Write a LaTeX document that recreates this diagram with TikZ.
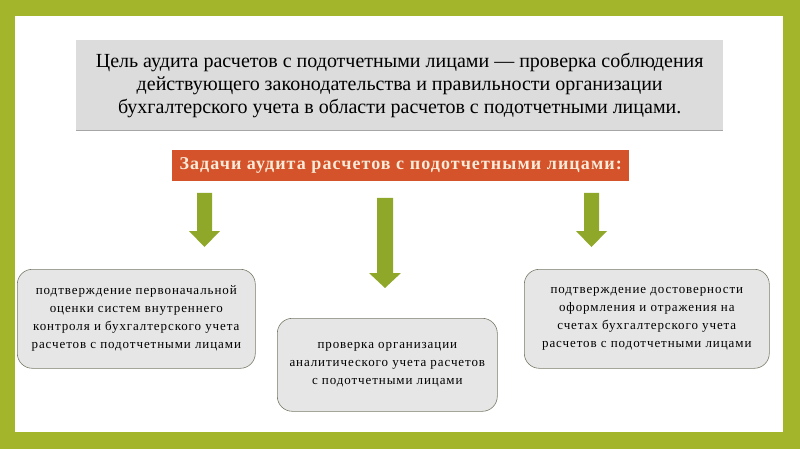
\documentclass[tikz,border=0pt]{standalone}
\usepackage{fontspec}
\setmainfont{Liberation Serif}
\newfontfamily\boxfont[LetterSpace=7]{Liberation Serif}
\newfontfamily\headfont[LetterSpace=6]{Liberation Serif}
\definecolor{frame}{HTML}{A3B62B}
\definecolor{arrowgreen}{HTML}{8FA829}
\definecolor{titlegray}{HTML}{DCDCDC}
\definecolor{boxgray}{HTML}{E6E6E6}
\definecolor{boxline}{HTML}{7A7A6A}
\definecolor{orange}{HTML}{D5532A}
\definecolor{cream}{HTML}{F8EAD8}
\tikzset{
  taskbox/.style={draw=boxline, line width=0.6pt, fill=boxgray, rounded corners=15pt, align=center, inner sep=0pt,
    font=\boxfont\fontsize{13}{18}\selectfont, text=black},
  blockarrow/.style={fill=arrowgreen, draw=none},
}
\begin{document}
\begin{tikzpicture}[x=1pt,y=-1pt]
\useasboundingbox (0,0) rectangle (800,449);
\fill[frame] (0,0) rectangle (800,449);
\fill[white] (15,16) rectangle (783,432);
% title box
\fill[black!35] (76,42) rectangle (723,131);
\node[fill=titlegray, minimum width=647pt, minimum height=90pt, inner sep=0pt, anchor=north west,
  align=center, font=\fontsize{20}{23}\selectfont] (goal) at (76,40)
  {Цель аудита расчетов с подотчетными лицами — проверка соблюдения\\
   действующего законодательства и правильности организации\\
   бухгалтерского учета в области расчетов с подотчетными лицами.};
% orange header
\node[fill=orange, minimum width=457pt, minimum height=31pt, inner sep=0pt, anchor=north west,
  text=cream, font=\headfont\bfseries\fontsize{18}{20}\selectfont] (tasks) at (172,150)
  {Задачи аудита расчетов с подотчетными лицами:};
% arrows
\fill[blockarrow] (197,193) -- (212,193) -- (212,231) -- (220,231) -- (204.5,247) -- (189,231) -- (197,231) -- cycle;
\fill[blockarrow] (377,198) -- (393,198) -- (393,273) -- (401,273) -- (385,288) -- (369,273) -- (377,273) -- cycle;
\fill[blockarrow] (584,193) -- (599,193) -- (599,231) -- (607,231) -- (591.5,247) -- (576,231) -- (584,231) -- cycle;
% task boxes
\node[taskbox, minimum width=238pt, minimum height=99pt, anchor=north west] (t1) at (17,269)
  {подтверждение первоначальной\\ оценки систем внутреннего\\ контроля и бухгалтерского учета\\ расчетов с подотчетными лицами};
\node[taskbox, minimum width=220pt, minimum height=93pt, anchor=north west] (t2) at (277,318)
  {проверка организации\\ аналитического учета расчетов\\ с подотчетными лицами};
\node[taskbox, minimum width=245pt, minimum height=99pt, anchor=north west] (t3) at (524,269)
  {подтверждение достоверности\\ оформления и отражения на\\ счетах бухгалтерского учета\\ расчетов с подотчетными лицами};
\end{tikzpicture}
\end{document}
